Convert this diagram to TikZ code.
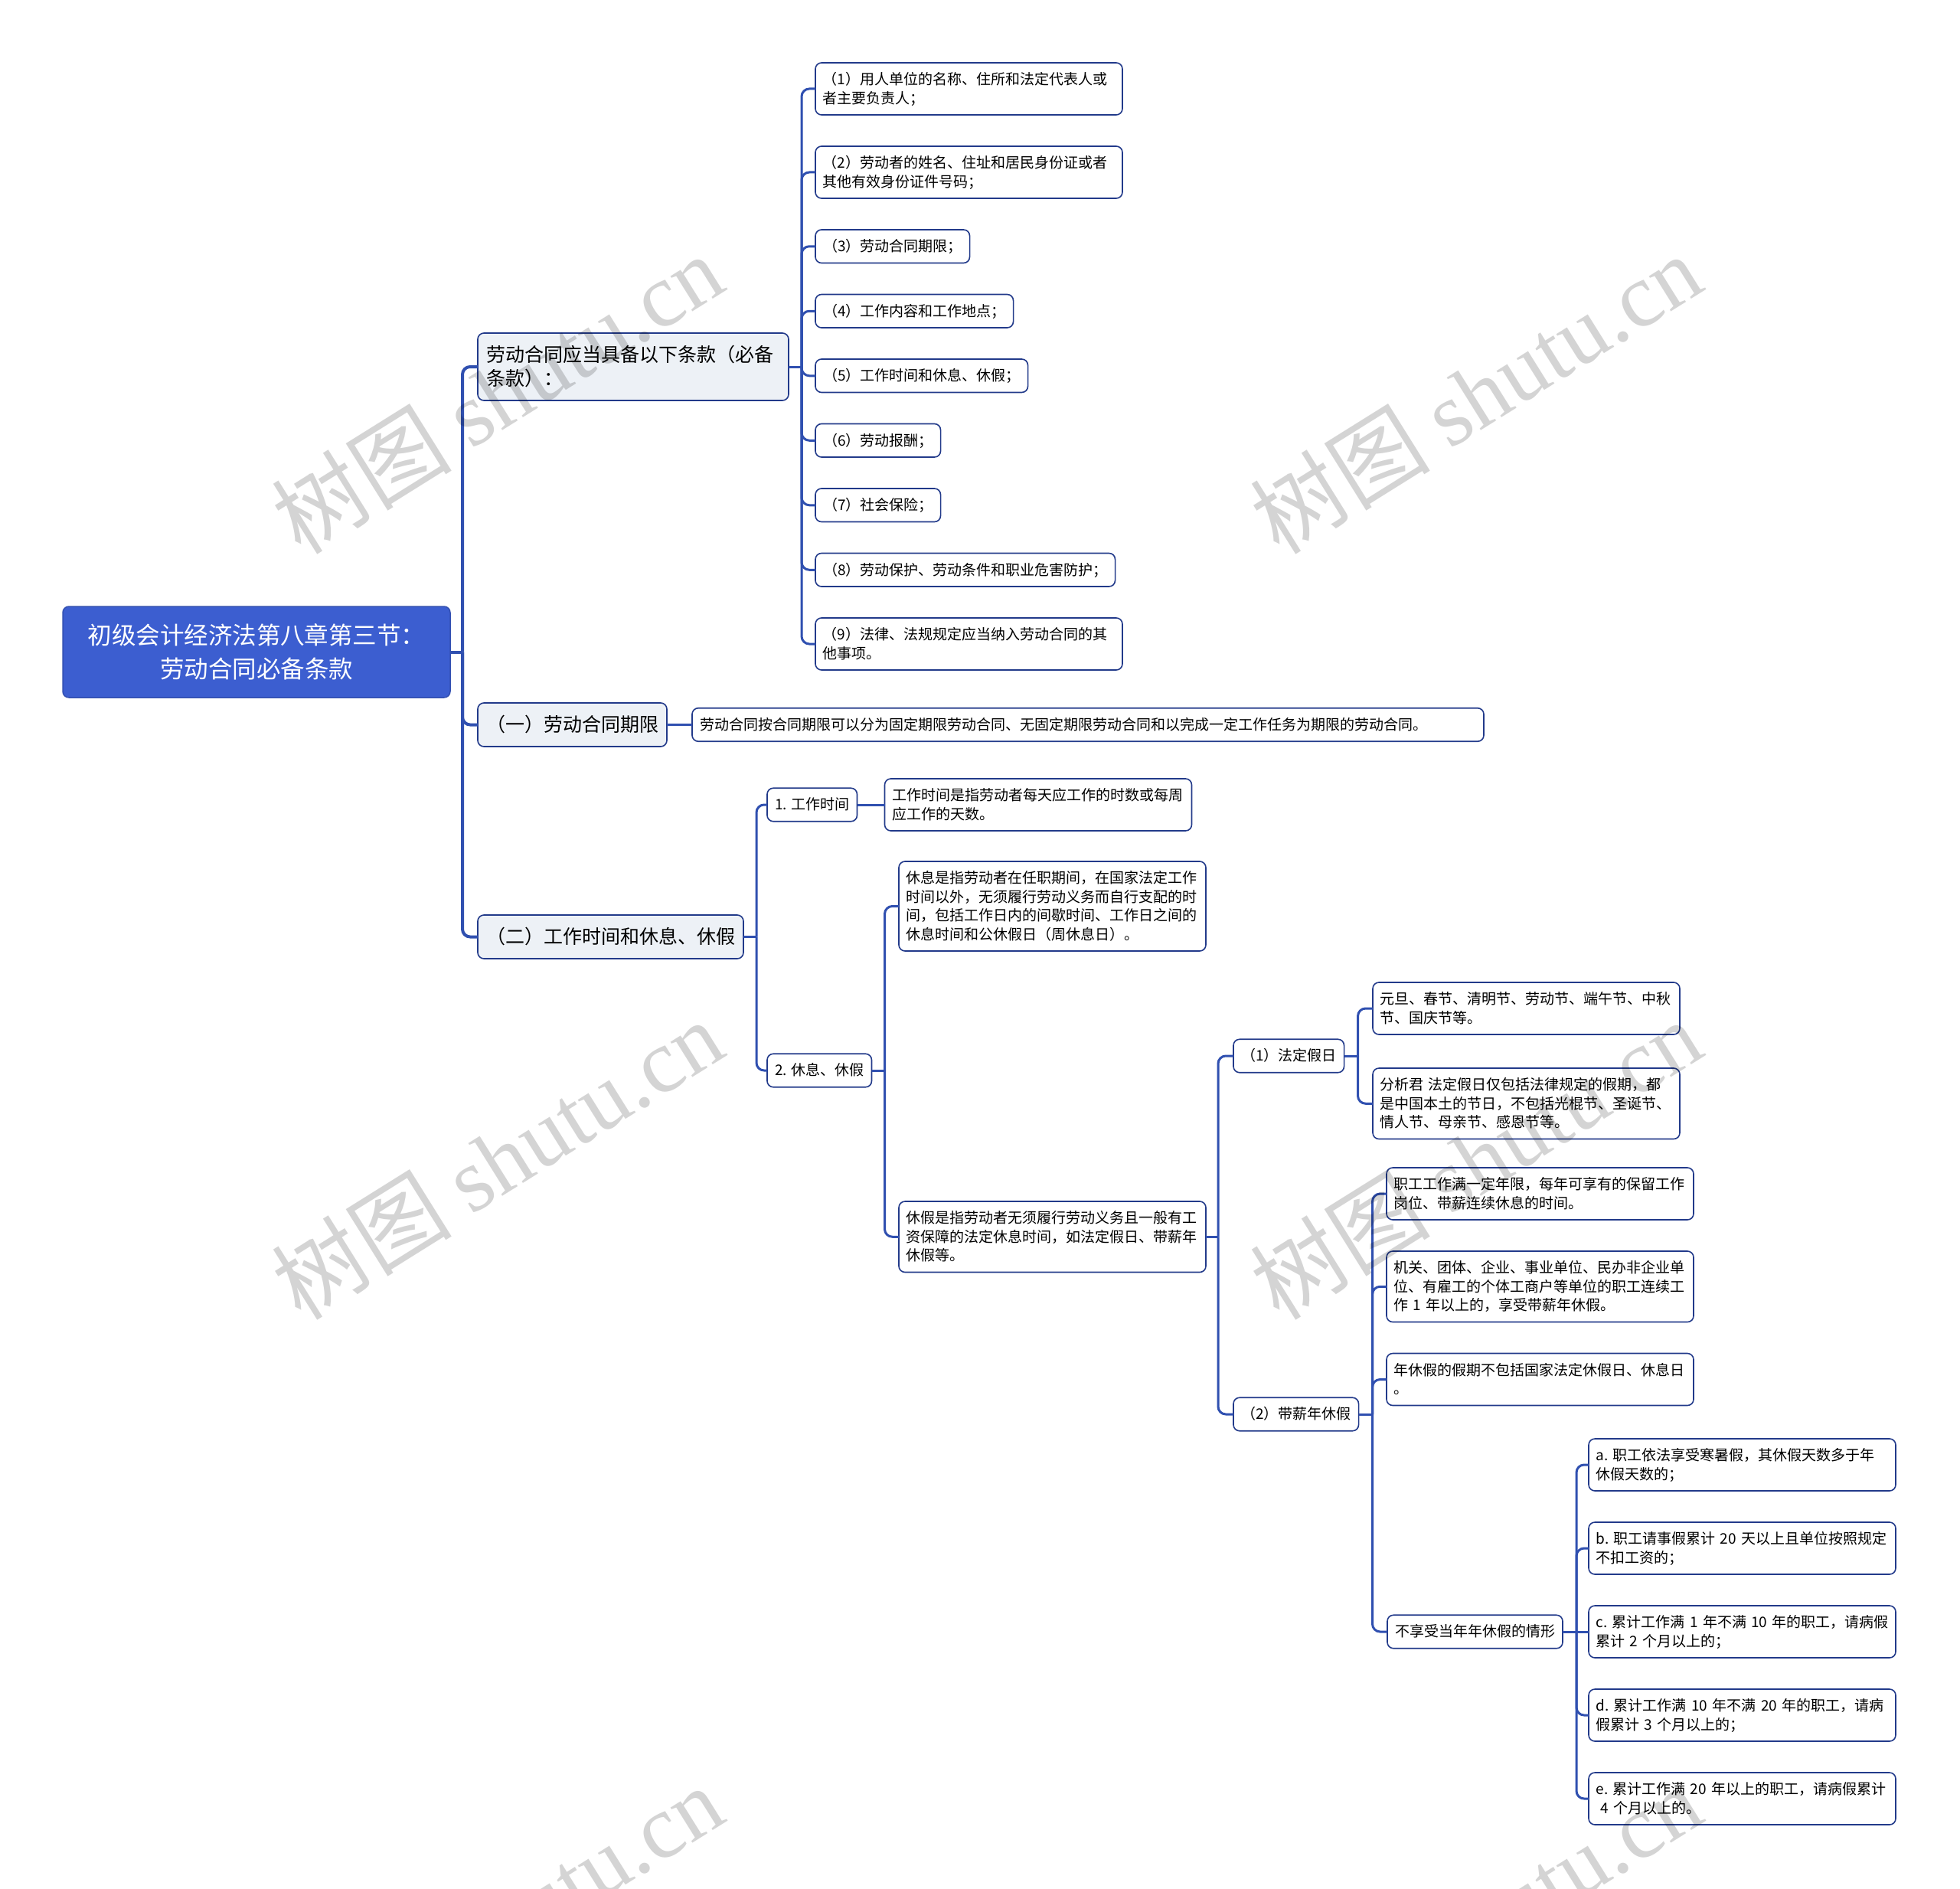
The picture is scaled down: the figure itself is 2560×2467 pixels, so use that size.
\documentclass[tikz,border=0pt]{standalone}
\usepackage{fontspec}
\setmainfont{Noto Sans CJK SC}
\newfontfamily\wmlatin{Liberation Serif}
\usetikzlibrary{positioning}

\definecolor{rootblue}{RGB}{60,94,208}
\definecolor{linkblue}{RGB}{48,80,176}
\definecolor{boxline}{RGB}{34,58,138}
\definecolor{branchfill}{RGB}{237,241,246}

% line strut that keeps the glyphs centred in their boxes
\newcommand{\linestrut}{\rule[-0.22\baselineskip]{0pt}{\baselineskip}}

\begin{document}
\begin{tikzpicture}[
    x=1pt, y=1pt,
    % Style definitions
    root/.style={rectangle, rounded corners=8pt, text width=482pt, inner xsep=12pt, inner ysep=15.5pt,
                 outer sep=0pt, align=center, draw=rootblue!85!black, line width=1.5pt, fill=rootblue,
                 text=white, font=\fontsize{31.5}{44}\selectfont,
                 execute at begin node=\linestrut, execute at end node=\linestrut},
    branch/.style={rectangle, rounded corners=8pt, inner xsep=11pt, inner ysep=13pt, outer sep=0pt,
                   draw=boxline, line width=1.6pt, fill=branchfill, font=\fontsize{25}{31}\selectfont,
                   execute at begin node=\linestrut, execute at end node=\linestrut},
    leaf/.style={rectangle, rounded corners=8pt, inner xsep=10pt, inner ysep=9.5pt, outer sep=0pt,
                 draw=boxline, line width=1.6pt, fill=white, font=\fontsize{19}{24.5}\selectfont,
                 execute at begin node=\linestrut, execute at end node=\linestrut},
    wide/.style={leaf, text width=382pt, inner xsep=9.5pt, align=left},
    link/.style={draw=linkblue, line width=3pt, rounded corners=10pt},
    trunk/.style={link, line width=4pt},
    wmark/.style={rotate=32, text=black, opacity=0.17, font=\fontsize{118}{118}\selectfont},
]

\fill[white] (0,0) rectangle (2560,-2467);
\useasboundingbox (0,0) rectangle (2560,-2467);

% Root and main branches
\node[root] (root) at (335,-851.5) {初级会计经济法第八章第三节：\\劳动合同必备条款};

\node[branch, text width=384pt, align=left, anchor=west] (b1) at (624,-479) {劳动合同应当具备以下条款（必备\\条款）：};
\node[branch, anchor=west] (b2) at (624,-946.5) {（一）劳动合同期限};
\node[branch, anchor=west] (b3) at (624,-1223.5) {（二）工作时间和休息、休假};

% Necessary clauses
\node[wide, anchor=north west] (c1) at (1065,-82) {（1）用人单位的名称、住所和法定代表人或\\者主要负责人；};
\node[wide, below=41pt of c1.south west, anchor=north west] (c2) {（2）劳动者的姓名、住址和居民身份证或者\\其他有效身份证件号码；};
\node[leaf, below=41pt of c2.south west, anchor=north west] (c3) {（3）劳动合同期限；};
\node[leaf, below=41pt of c3.south west, anchor=north west] (c4) {（4）工作内容和工作地点；};
\node[leaf, below=41pt of c4.south west, anchor=north west] (c5) {（5）工作时间和休息、休假；};
\node[leaf, below=41pt of c5.south west, anchor=north west] (c6) {（6）劳动报酬；};
\node[leaf, below=41pt of c6.south west, anchor=north west] (c7) {（7）社会保险；};
\node[leaf, below=41pt of c7.south west, anchor=north west] (c8) {（8）劳动保护、劳动条件和职业危害防护；};
\node[wide, below=41pt of c8.south west, anchor=north west] (c9) {（9）法律、法规规定应当纳入劳动合同的其\\他事项。};

% Contract term
\node[leaf, text width=1014pt, align=left, right=33pt of b2] (b2d) {劳动合同按合同期限可以分为固定期限劳动合同、无固定期限劳动合同和以完成一定工作任务为期限的劳动合同。};

% Working time, rest and leave
\node[leaf, anchor=west] (k1) at (1002,-1051) {1. 工作时间};
\node[leaf, anchor=west] (k2) at (1002,-1398) {2. 休息、休假};
\node[wide, right=36pt of k1] (k1d) {工作时间是指劳动者每天应工作的时数或每周\\应工作的天数。};

\node[wide, anchor=north west] (r1) at (1174,-1125) {休息是指劳动者在任职期间，在国家法定工作\\时间以外，无须履行劳动义务而自行支配的时\\间，包括工作日内的间歇时间、工作日之间的\\休息时间和公休假日（周休息日）。};
\node[wide, anchor=north west] (r2) at (1174,-1569) {休假是指劳动者无须履行劳动义务且一般有工\\资保障的法定休息时间，如法定假日、带薪年\\休假等。};

\node[leaf, anchor=west] (h1) at (1611,-1379) {（1）法定假日};
\node[leaf, anchor=west] (h2) at (1611,-1847) {（2）带薪年休假};

\node[wide, anchor=north west] (f1) at (1793,-1283) {元旦、春节、清明节、劳动节、端午节、中秋\\节、国庆节等。};
\node[wide, below=44pt of f1.south west, anchor=north west] (f2) {分析君 法定假日仅包括法律规定的假期，都\\是中国本土的节日，不包括光棍节、圣诞节、\\情人节、母亲节、感恩节等。};

\node[wide, anchor=north west] (p1) at (1811,-1525) {职工工作满一定年限，每年可享有的保留工作\\岗位、带薪连续休息的时间。};
\node[wide, below=41pt of p1.south west, anchor=north west] (p2) {机关、团体、企业、事业单位、民办非企业单\\位、有雇工的个体工商户等单位的职工连续工\\作~1~年以上的，享受带薪年休假。};
\node[wide, below=41pt of p2.south west, anchor=north west] (p3) {年休假的假期不包括国家法定休假日、休息日\\。};

\node[wide, anchor=north west] (q1) at (2075,-1879) {a.~职工依法享受寒暑假，其休假天数多于年\\休假天数的；};
\node[wide, below=41pt of q1.south west, anchor=north west] (q2) {b.~职工请事假累计~20~天以上且单位按照规定\\不扣工资的；};
\node[wide, below=41pt of q2.south west, anchor=north west] (q3) {c.~累计工作满~1~年不满~10~年的职工，请病假\\累计~2~个月以上的；};
\node[wide, below=41pt of q3.south west, anchor=north west] (q4) {d.~累计工作满~10~年不满~20~年的职工，请病\\假累计~3~个月以上的；};
\node[wide, below=41pt of q4.south west, anchor=north west] (q5) {e.~累计工作满~20~年以上的职工，请病假累计\\\hspace*{0.3em}4~个月以上的。};
\node[leaf, left=34pt of q3] (p4) {不享受当年年休假的情形};

% Connectors
\coordinate (j0) at ([xshift=16pt]root.east);
\draw[trunk] (root.east) -- (j0);
\foreach \n in {b1,b2,b3} \draw[trunk] (j0) |- (\n.west);

\coordinate (j1) at ([xshift=17pt]b1.east);
\draw[link] (b1.east) -- (j1);
\foreach \i in {1,...,9} \draw[link] (j1) |- (c\i.west);

\draw[link] (b2) -- (b2d);

\coordinate (j3) at ([xshift=17pt]b3.east);
\draw[link] (b3.east) -- (j3);
\foreach \n in {k1,k2} \draw[link] (j3) |- (\n.west);
\draw[link] (k1) -- (k1d);

\coordinate (j4) at ([xshift=17pt]k2.east);
\draw[link] (k2.east) -- (j4);
\foreach \n in {r1,r2} \draw[link] (j4) |- (\n.west);

\coordinate (j5) at ([xshift=16pt]r2.east);
\draw[link] (r2.east) -- (j5);
\foreach \n in {h1,h2} \draw[link] (j5) |- (\n.west);

\coordinate (j6) at ([xshift=18pt]h1.east);
\draw[link] (h1.east) -- (j6);
\foreach \n in {f1,f2} \draw[link] (j6) |- (\n.west);

\coordinate (j7) at ([xshift=18pt]h2.east);
\draw[link] (h2.east) -- (j7);
\foreach \n in {p1,p2,p3,p4} \draw[link] (j7) |- (\n.west);

\coordinate (j8) at ([xshift=18pt]p4.east);
\draw[link] (p4) -- (q3);
\foreach \n in {q1,q2,q4,q5} \draw[link] (j8) |- (\n.west);

% Watermarks
\begin{scope}
\clip (0,0) rectangle (2560,-2467);
\node[wmark] (wm1) at (649,-514) {树图 {\wmlatin shutu.cn}};
\node[wmark] (wm2) at (1927,-514) {树图 {\wmlatin shutu.cn}};
\node[wmark] (wm3) at (649,-1514) {树图 {\wmlatin shutu.cn}};
\node[wmark] (wm4) at (1927,-1514) {树图 {\wmlatin shutu.cn}};
\node[wmark] (wm5) at (649,-2514) {树图 {\wmlatin shutu.cn}};
\node[wmark] (wm6) at (1927,-2514) {树图 {\wmlatin shutu.cn}};
\end{scope}

\end{tikzpicture}
\end{document}
